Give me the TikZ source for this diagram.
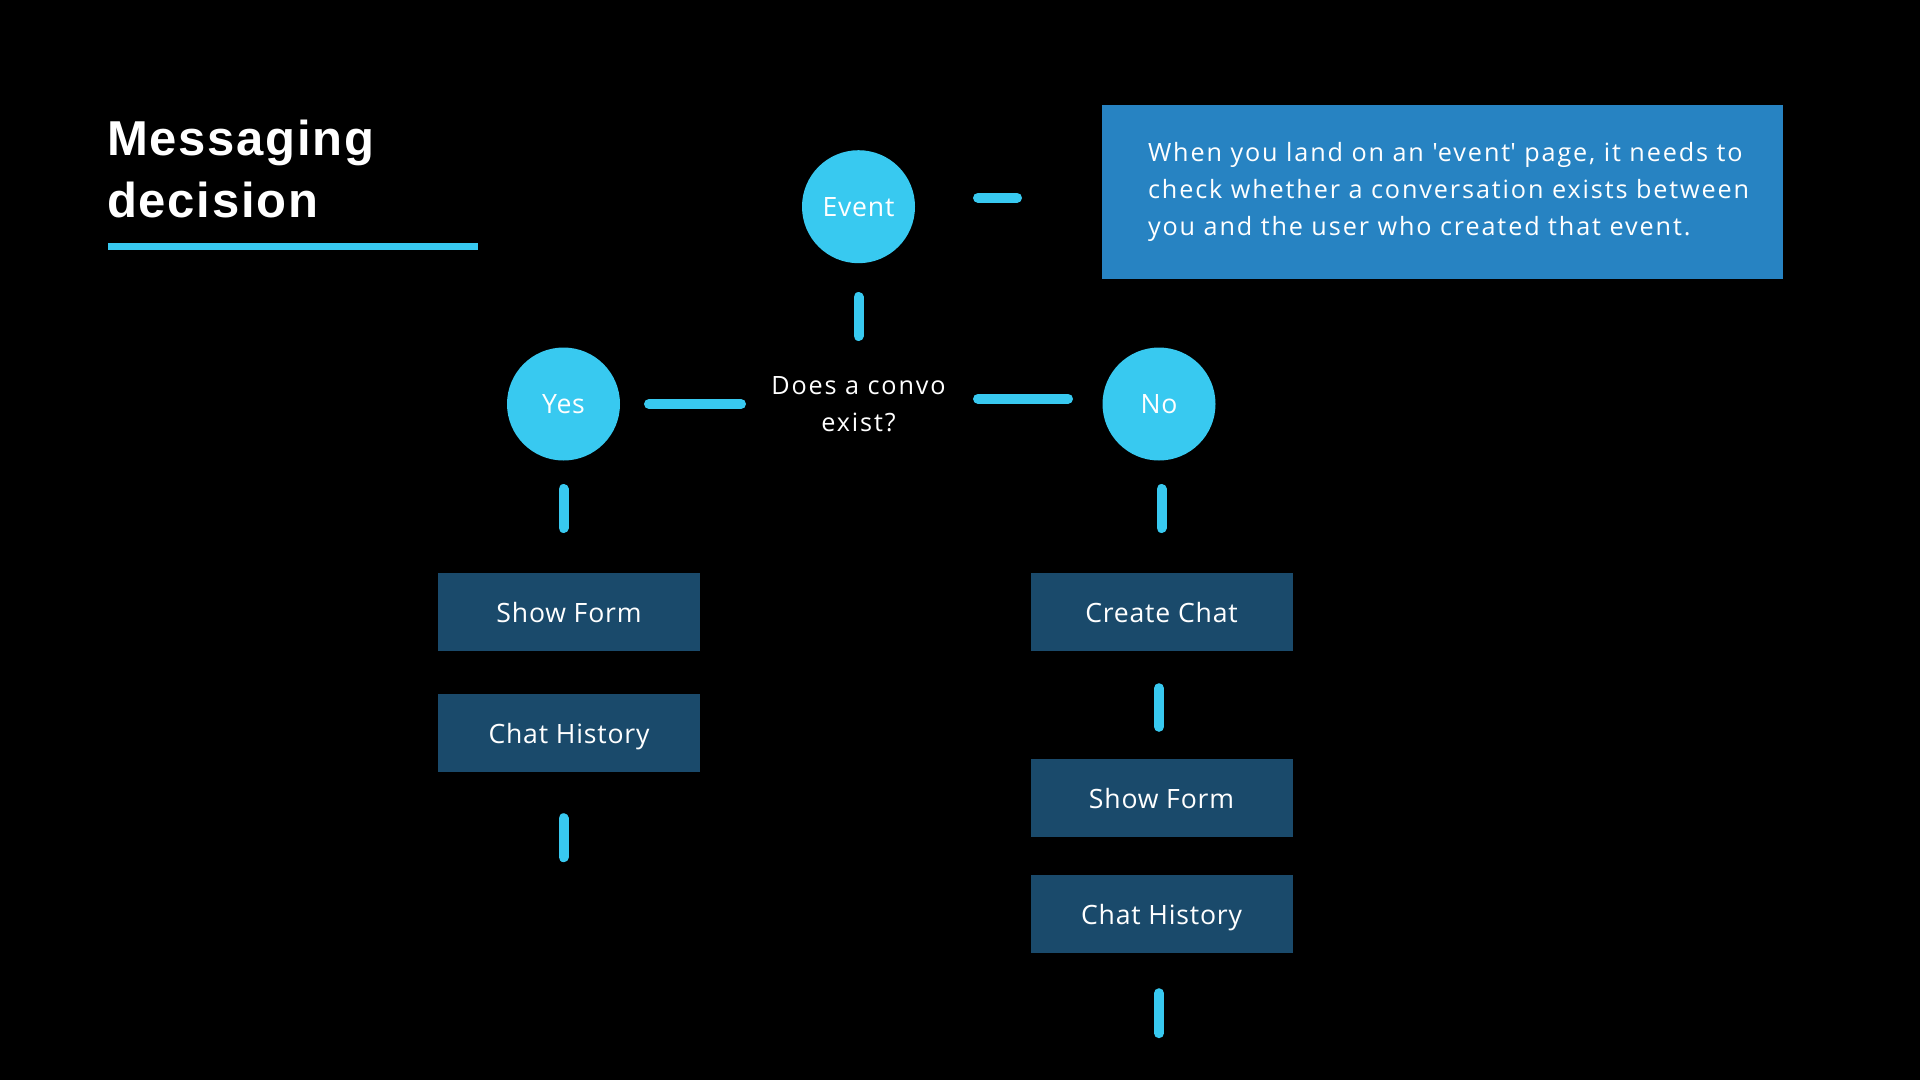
\documentclass[tikz,border=0pt]{standalone}
\usepackage{fontspec}
\setmainfont{Open Sans}[LetterSpace=3]
\newfontfamily\widefont{Open Sans}[LetterSpace=7.5]
\newfontfamily\titlefont{Liberation Sans}[BoldFont={* Bold}, LetterSpace=3.5]
\definecolor{skyc}{RGB}{56,201,240}
\definecolor{navyc}{RGB}{26,74,107}
\definecolor{notec}{RGB}{39,131,194}
\tikzset{
  bubble/.style={circle, fill=skyc, minimum size=113pt, inner sep=0pt, text=white, font=\fontsize{26.6}{32}\selectfont},
  stepbox/.style={rectangle, fill=navyc, minimum width=262pt, minimum height=78pt, inner sep=0pt, text height=20pt, text depth=0pt, text=white, font=\fontsize{26.6}{32}\selectfont},
  link/.style={draw=skyc, line width=10pt, line cap=round},
}
\begin{document}
\begin{tikzpicture}[x=1pt, y=-1pt]
  \fill[black] (0,0) rectangle (1920,1080);
  \useasboundingbox (0,0) rectangle (1920,1080);

  % title
  \node[anchor=north west, inner sep=0pt, align=left, text=white, font=\titlefont\bfseries\fontsize{49}{62}\selectfont] (title) at (107,120) {Messaging\\decision};
  \draw[skyc, line width=7pt] (108,246.5) -- (478,246.5);

  % note
  \node[rectangle, fill=notec, minimum width=681pt, minimum height=174pt, inner sep=0pt] (note) at (1442.5,192) {};
  \node[anchor=west, inner sep=0pt, align=left, text=white, font=\widefont\fontsize{25.2}{37}\selectfont] (notetxt) at ([xshift=46pt]note.west) {When you land on an \textquotesingle event\textquotesingle{} page, it needs to\\check whether a conversation exists between\\you and the user who created that event.};

  % decision
  \node[bubble] (event) at (858.5,206.7) {Event};
  \node[inner sep=0pt, align=center, text=white, font=\widefont\fontsize{25.2}{37}\selectfont] (question) at (858.5,404) {Does a convo\\exist?};
  \node[bubble] (yes) at (563.5,404) {Yes};
  \node[bubble] (no) at (1159,404) {No};

  % yes branch
  \node[stepbox] (formL) at (569,612) {Show Form};
  \node[stepbox] (historyL) at (569,733) {Chat History};

  % no branch
  \node[stepbox] (createR) at (1161.5,612) {Create Chat};
  \node[stepbox] (formR) at (1161.5,798) {Show Form};
  \node[stepbox] (historyR) at (1161.5,914) {Chat History};

  % links
  \draw[link, shorten <=90.3pt, shorten >=68pt] (event.center) -- (question.center);
  \draw[link, shorten <=119.5pt, shorten >=425.5pt] ([yshift=9pt]event.center) -- ([yshift=-5.7pt]note.center);
  \draw[link, shorten <=117.5pt, shorten >=85.5pt] (question.center) -- (yes.center);
  \draw[link, shorten <=119.5pt, shorten >=91pt] ([yshift=5.3pt]question.center) -- ([yshift=5.3pt]no.center);
  \draw[link, shorten <=85pt, shorten >=84pt] (yes.center) -- (yes.center |- formL.center);
  \draw[link, shorten <=85pt, shorten >=84pt] ([xshift=2.5pt]no.center) -- (createR.center);
  \draw[link] ([xshift=-5.5pt]historyL.south) ++(0,46) -- ++(0,39);
  \draw[link, shorten <=37pt, shorten >=32pt] ([xshift=-2.5pt]createR.south) -- ([xshift=-2.5pt]formR.north);
  \draw[link] ([xshift=-2.5pt]historyR.south) ++(0,40) -- ++(0,40);
\end{tikzpicture}
\end{document}
